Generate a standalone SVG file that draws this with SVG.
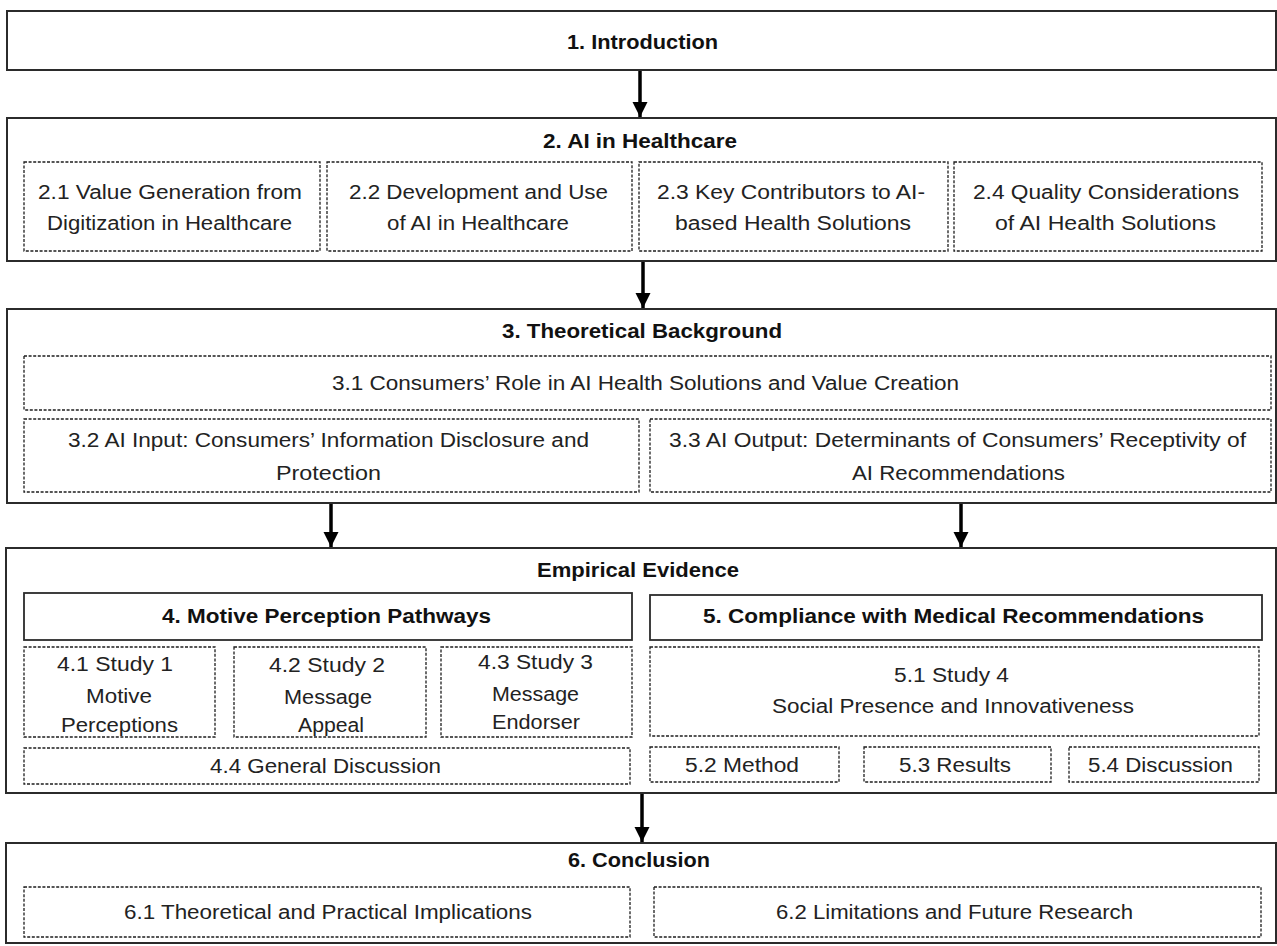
<svg xmlns="http://www.w3.org/2000/svg" width="1277" height="946" viewBox="0 0 1277 946">
  <style>
    .sec { fill: #ffffff; stroke: #2b2b2b; stroke-width: 2; }
    .head { fill: #ffffff; stroke: #2b2b2b; stroke-width: 1.8; }
    .sub { fill: #ffffff; stroke: #1e1e1e; stroke-width: 1.3; stroke-dasharray: 3 1.6; }
    text { font-family: "Liberation Sans", Arial, Helvetica, sans-serif; font-size: 20px; fill: #222222; }
    .b { font-weight: bold; fill: #111111; }
    .arrow { stroke: #000000; stroke-width: 3.5; fill: none; }
  </style>
  <defs>
    <marker id="ah" viewBox="0 0 10 10" refX="10" refY="5" markerWidth="4.4" markerHeight="4.4" markerUnits="strokeWidth" orient="auto">
      <path d="M0,0 L10,5 L0,10 z" fill="#000000"/>
    </marker>
  </defs>
  <rect width="1277" height="946" fill="#ffffff"/>

  <!-- 1. Introduction -->
  <g id="intro">
    <rect class="sec" x="7" y="11" width="1269" height="59"/>
    <text class="b" x="567" y="49" textLength="151" lengthAdjust="spacingAndGlyphs">1. Introduction</text>
  </g>

  <!-- 2. AI in Healthcare -->
  <g id="ai-healthcare">
    <rect class="sec" x="7" y="118" width="1269" height="143"/>
    <text class="b" x="543" y="148" textLength="194" lengthAdjust="spacingAndGlyphs">2. AI in Healthcare</text>
  </g>
  <g id="s2-1">
    <rect class="sub" x="24" y="162" width="296" height="89"/>
    <text x="38" y="199" textLength="264" lengthAdjust="spacingAndGlyphs">2.1 Value Generation from</text>
    <text x="47" y="230" textLength="245" lengthAdjust="spacingAndGlyphs">Digitization in Healthcare</text>
  </g>
  <g id="s2-2">
    <rect class="sub" x="327" y="162" width="305" height="89"/>
    <text x="349" y="199" textLength="259" lengthAdjust="spacingAndGlyphs">2.2 Development and Use</text>
    <text x="387" y="230" textLength="182" lengthAdjust="spacingAndGlyphs">of AI in Healthcare</text>
  </g>
  <g id="s2-3">
    <rect class="sub" x="639" y="162" width="309" height="89"/>
    <text x="657" y="199" textLength="268" lengthAdjust="spacingAndGlyphs">2.3 Key Contributors to AI-</text>
    <text x="675" y="230" textLength="236" lengthAdjust="spacingAndGlyphs">based Health Solutions</text>
  </g>
  <g id="s2-4">
    <rect class="sub" x="954" y="162" width="308" height="89"/>
    <text x="973" y="199" textLength="266" lengthAdjust="spacingAndGlyphs">2.4 Quality Considerations</text>
    <text x="995" y="230" textLength="221" lengthAdjust="spacingAndGlyphs">of AI Health Solutions</text>
  </g>

  <!-- 3. Theoretical Background -->
  <g id="theory">
    <rect class="sec" x="7" y="309" width="1269" height="194"/>
    <text class="b" x="502" y="338" textLength="280" lengthAdjust="spacingAndGlyphs">3. Theoretical Background</text>
  </g>
  <g id="s3-1">
    <rect class="sub" x="24" y="356" width="1247" height="54"/>
    <text x="332" y="390" textLength="627" lengthAdjust="spacingAndGlyphs">3.1 Consumers’ Role in AI Health Solutions and Value Creation</text>
  </g>
  <g id="s3-2">
    <rect class="sub" x="24" y="419" width="615" height="73"/>
    <text x="68" y="447" textLength="521" lengthAdjust="spacingAndGlyphs">3.2 AI Input: Consumers’ Information Disclosure and</text>
    <text x="276" y="480" textLength="105" lengthAdjust="spacingAndGlyphs">Protection</text>
  </g>
  <g id="s3-3">
    <rect class="sub" x="650" y="419" width="621" height="73"/>
    <text x="669" y="447" textLength="577" lengthAdjust="spacingAndGlyphs">3.3 AI Output: Determinants of Consumers’ Receptivity of</text>
    <text x="852" y="480" textLength="213" lengthAdjust="spacingAndGlyphs">AI Recommendations</text>
  </g>

  <!-- Empirical Evidence -->
  <g id="empirical">
    <rect class="sec" x="6" y="548" width="1270" height="245"/>
    <text class="b" x="537" y="577" textLength="202" lengthAdjust="spacingAndGlyphs">Empirical Evidence</text>
  </g>

  <!-- 4. Motive Perception Pathways -->
  <g id="motive">
    <rect class="head" x="24" y="593" width="608" height="47"/>
    <text class="b" x="162" y="623" textLength="329" lengthAdjust="spacingAndGlyphs">4. Motive Perception Pathways</text>
  </g>
  <g id="s4-1">
    <rect class="sub" x="24" y="647" width="191" height="90"/>
    <text x="57" y="671" textLength="116" lengthAdjust="spacingAndGlyphs">4.1 Study 1</text>
    <text x="86" y="703" textLength="66" lengthAdjust="spacingAndGlyphs">Motive</text>
    <text x="61" y="732" textLength="117" lengthAdjust="spacingAndGlyphs">Perceptions</text>
  </g>
  <g id="s4-2">
    <rect class="sub" x="234" y="647" width="192" height="90"/>
    <text x="269" y="672" textLength="116" lengthAdjust="spacingAndGlyphs">4.2 Study 2</text>
    <text x="284" y="704" textLength="88" lengthAdjust="spacingAndGlyphs">Message</text>
    <text x="298" y="732" textLength="66" lengthAdjust="spacingAndGlyphs">Appeal</text>
  </g>
  <g id="s4-3">
    <rect class="sub" x="441" y="647" width="191" height="90"/>
    <text x="478" y="669" textLength="115" lengthAdjust="spacingAndGlyphs">4.3 Study 3</text>
    <text x="492" y="701" textLength="87" lengthAdjust="spacingAndGlyphs">Message</text>
    <text x="492" y="729" textLength="88" lengthAdjust="spacingAndGlyphs">Endorser</text>
  </g>
  <g id="s4-4">
    <rect class="sub" x="24" y="748" width="606" height="36"/>
    <text x="210" y="773" textLength="231" lengthAdjust="spacingAndGlyphs">4.4 General Discussion</text>
  </g>

  <!-- 5. Compliance with Medical Recommendations -->
  <g id="compliance">
    <rect class="head" x="650" y="595" width="612" height="45"/>
    <text class="b" x="703" y="623" textLength="501" lengthAdjust="spacingAndGlyphs">5. Compliance with Medical Recommendations</text>
  </g>
  <g id="s5-1">
    <rect class="sub" x="650" y="647" width="609" height="89"/>
    <text x="894" y="682" textLength="115" lengthAdjust="spacingAndGlyphs">5.1 Study 4</text>
    <text x="772" y="713" textLength="362" lengthAdjust="spacingAndGlyphs">Social Presence and Innovativeness</text>
  </g>
  <g id="s5-2">
    <rect class="sub" x="650" y="747" width="189" height="35"/>
    <text x="685" y="772" textLength="114" lengthAdjust="spacingAndGlyphs">5.2 Method</text>
  </g>
  <g id="s5-3">
    <rect class="sub" x="864" y="747" width="187" height="35"/>
    <text x="899" y="772" textLength="112" lengthAdjust="spacingAndGlyphs">5.3 Results</text>
  </g>
  <g id="s5-4">
    <rect class="sub" x="1069" y="747" width="190" height="35"/>
    <text x="1088" y="772" textLength="145" lengthAdjust="spacingAndGlyphs">5.4 Discussion</text>
  </g>

  <!-- 6. Conclusion -->
  <g id="conclusion">
    <rect class="sec" x="6" y="843" width="1270" height="100"/>
    <text class="b" x="568" y="867" textLength="142" lengthAdjust="spacingAndGlyphs">6. Conclusion</text>
  </g>
  <g id="s6-1">
    <rect class="sub" x="24" y="887" width="606" height="50"/>
    <text x="124" y="919" textLength="408" lengthAdjust="spacingAndGlyphs">6.1 Theoretical and Practical Implications</text>
  </g>
  <g id="s6-2">
    <rect class="sub" x="654" y="887" width="607" height="50"/>
    <text x="776" y="919" textLength="357" lengthAdjust="spacingAndGlyphs">6.2 Limitations and Future Research</text>
  </g>

  <!-- connectors -->
  <g id="connectors">
    <line class="arrow" x1="640" y1="71" x2="640" y2="117" marker-end="url(#ah)"/>
    <line class="arrow" x1="643" y1="262" x2="643" y2="308" marker-end="url(#ah)"/>
    <line class="arrow" x1="331" y1="504" x2="331" y2="547" marker-end="url(#ah)"/>
    <line class="arrow" x1="961" y1="504" x2="961" y2="547" marker-end="url(#ah)"/>
    <line class="arrow" x1="642" y1="794" x2="642" y2="842" marker-end="url(#ah)"/>
  </g>
</svg>
